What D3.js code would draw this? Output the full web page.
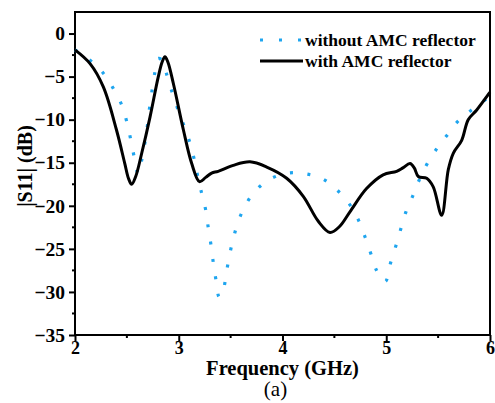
<!DOCTYPE html>
<html>
<head>
<meta charset="utf-8">
<script src="https://cdn.jsdelivr.net/npm/d3@7"></script>
<style>
  body { margin: 0; background: #fff; }
  text { font-family: "Liberation Serif", "Times New Roman", serif; }
</style>
</head>
<body>
<div id="chart"></div>
<script>
// measured |S11| curves (GHz, dB)
var freqWith = [2.0, 2.145, 2.273, 2.40, 2.48, 2.515, 2.546, 2.585, 2.643, 2.723, 2.803, 2.84, 2.867, 2.895, 2.948, 3.045, 3.125, 3.2, 3.26, 3.317, 3.38, 3.526, 3.687, 3.848, 4.04, 4.2, 4.345, 4.458, 4.55, 4.65, 4.81, 4.97, 5.1, 5.16, 5.229, 5.27, 5.309, 5.39, 5.453, 5.534, 5.598, 5.646, 5.727, 5.79, 5.87, 6.0];
var s11With  = [-1.9, -3.5, -6.2, -11.2, -15.1, -16.8, -17.5, -16.6, -13.9, -9.7, -5.0, -3.3, -2.7, -3.3, -5.8, -11.2, -15.1, -17.2, -16.7, -16.2, -16.0, -15.3, -14.9, -15.5, -16.8, -18.9, -21.8, -23.1, -22.4, -20.7, -18.0, -16.4, -16.0, -15.6, -15.1, -15.6, -16.6, -16.8, -17.8, -21.1, -15.8, -13.9, -12.4, -10.0, -8.9, -6.8];

var freqWithout = [2.0, 2.145, 2.273, 2.37, 2.45, 2.498, 2.537, 2.57, 2.61, 2.643, 2.675, 2.70, 2.72, 2.745, 2.77, 2.80, 2.84, 2.88, 2.93, 2.986, 3.044, 3.1, 3.147, 3.18, 3.22, 3.26, 3.285, 3.31, 3.333, 3.36, 3.39, 3.43, 3.46, 3.49, 3.526, 3.574, 3.645, 3.735, 3.88, 4.056, 4.23, 4.39, 4.52, 4.645, 4.73, 4.795, 4.85, 4.907, 4.99, 5.04, 5.094, 5.14, 5.19, 5.254, 5.318, 5.395, 5.485, 5.58, 5.69, 5.82, 6.0];
var s11Without  = [-1.9, -3.1, -4.6, -6.4, -8.3, -10.2, -12.3, -14.3, -16.3, -14.7, -12.6, -10.5, -8.5, -6.4, -4.5, -2.9, -3.1, -4.6, -6.6, -8.6, -10.5, -12.4, -14.5, -16.4, -18.5, -20.5, -22.6, -24.5, -26.6, -28.7, -30.6, -29.7, -27.7, -25.7, -23.8, -21.8, -19.9, -18.3, -16.9, -16.2, -16.3, -16.9, -18.1, -19.8, -21.6, -23.6, -25.5, -27.5, -28.8, -26.7, -24.6, -22.7, -20.7, -18.9, -17.0, -15.1, -13.4, -11.9, -10.2, -8.9, -7.3];

var xTicks = [2, 3, 4, 5, 6];
var yTicks = [0, -5, -10, -15, -20, -25, -30, -35];
var legendLabels = ["without AMC reflector", "with AMC reflector"];

var margin = {left: 75, right: 5, top: 12, bottom: 68};
var width = 495 - margin.left - margin.right,
    height = 403 - margin.top - margin.bottom;

var svg = d3.select("#chart")
  .append("svg")
    .attr("width", 495)
    .attr("height", 403);

var canvas = svg.append("g")
    .attr("transform", "translate(" + margin.left + "," + margin.top + ")");

var x = d3.scaleLinear().domain([2, 6]).range([0, width]);
var y = d3.scaleLinear().domain([-35, 2.5]).range([height, 0]);

// axes
var xAxisCall = d3.axisBottom(x).tickValues(xTicks).tickSize(6).tickPadding(0).tickFormat(d3.format("d"));
var xAxis = canvas.append("g")
    .attr("transform", "translate(0," + height + ")")
    .call(xAxisCall);
xAxis.append("g").selectAll("line")
  .data([2.5, 3.5, 4.5, 5.5])
  .enter().append("line")
    .attr("x1", function(d){ return x(d); })
    .attr("x2", function(d){ return x(d); })
    .attr("y1", 0).attr("y2", 3)
    .attr("stroke", "#000").attr("stroke-width", 2);

var yAxisCall = d3.axisLeft(y).tickValues(yTicks).tickSize(6).tickPadding(4).tickFormat(d3.format("d"));
var yAxis = canvas.append("g").call(yAxisCall);
yAxis.append("g").selectAll("line")
  .data([-2.5, -7.5, -12.5, -17.5, -22.5, -27.5, -32.5])
  .enter().append("line")
    .attr("y1", function(d){ return y(d); })
    .attr("y2", function(d){ return y(d); })
    .attr("x1", 0).attr("x2", -3)
    .attr("stroke", "#000").attr("stroke-width", 2);

[xAxis, yAxis].forEach(function(a){
  a.select(".domain").remove();
  a.selectAll(".tick line").attr("stroke", "#000").attr("stroke-width", 2);
  a.selectAll(".tick text")
    .attr("fill", "#000")
    .style("font-family", "'Liberation Serif', serif")
    .style("font-weight", "bold")
    .style("font-size", "19.5px");
});
xAxis.selectAll(".tick text").style("font-size", "18px");

// frame
canvas.append("rect")
  .attr("width", width).attr("height", height)
  .attr("fill", "none")
  .attr("stroke", "#000")
  .attr("stroke-width", 2);

// curves
var line = d3.line()
  .x(function(d){ return x(d[0]); })
  .y(function(d){ return y(d[1]); })
  .curve(d3.curveCatmullRom.alpha(0.5));

var withoutData = d3.zip(freqWithout, s11Without);
var withData = d3.zip(freqWith, s11With);

canvas.append("path")
  .datum(withoutData)
  .attr("d", line)
  .attr("fill", "none")
  .attr("stroke", "#1ea5ef")
  .attr("stroke-width", 3.2)
  .attr("stroke-dasharray", "3,14.5");

canvas.append("path")
  .datum(withData)
  .attr("d", line)
  .attr("fill", "none")
  .attr("stroke", "#000")
  .attr("stroke-width", 3)
  .attr("stroke-linejoin", "round");

// legend
var legend = canvas.append("g");
legendLabels.forEach(function(label, i){
  var row = legend.append("g").attr("transform", "translate(185," + (28 + i * 21) + ")");
  row.append("line")
    .attr("x1", 0).attr("x2", 43)
    .attr("stroke", i === 0 ? "#1ea5ef" : "#000")
    .attr("stroke-width", 3)
    .attr("stroke-dasharray", i === 0 ? "3,16" : null);
  row.append("text")
    .attr("x", 45).attr("y", 6)
    .style("font-weight", "bold")
    .style("font-size", "17.5px")
    .text(label);
});

// axis labels
canvas.append("text")
  .attr("x", width / 2)
  .attr("y", height + 40)
  .attr("text-anchor", "middle")
  .style("font-weight", "bold")
  .style("font-size", "20.5px")
  .text("Frequency (GHz)");

canvas.append("text")
  .attr("x", width / 2 - 7)
  .attr("y", height + 61)
  .attr("text-anchor", "middle")
  .style("font-size", "21px")
  .text("(a)");

canvas.append("text")
  .attr("transform", "rotate(-90)")
  .attr("x", -154)
  .attr("y", -43)
  .attr("text-anchor", "middle")
  .style("font-weight", "bold")
  .style("font-size", "20px")
  .text("|S11| (dB)");
</script>
</body>
</html>
